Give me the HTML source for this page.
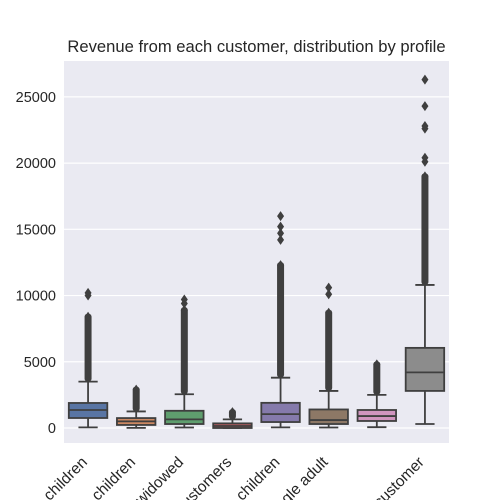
<!DOCTYPE html>
<html><head><meta charset="utf-8"><style>
html,body{margin:0;background:#fff;overflow:hidden;width:500px;height:500px;}
svg{font-family:"Liberation Sans","DejaVu Sans",sans-serif;display:block;overflow:hidden;}
</style></head><body>
<svg id="chart" width="500" height="500"></svg>
<script>
const categories=["Couple with children","Single parent with children","Senior widowed","Business customers","Family with children","Single adult","","Unknown customer"];
const q1=[755,230,300,0,450,300,530,2800];
const median=[1360,500,650,150,1050,600,900,4200];
const q3=[1890,750,1300,350,1900,1400,1360,6050];
const whiskLow=[50,10,40,0,50,40,60,300];
const whiskHigh=[3500,1250,2550,650,3800,2800,2500,10800];
const denseTop=[8400,2900,8900,1200,12300,8700,4800,19000];
const outliers=[[10000,10200],[],[9400,9700],[],[14200,14700,15200,16000],[10100,10600],[],[20100,20400,22600,22800,24300,26300]];
const yTicks=[0,5000,10000,15000,20000,25000];
const colors=["#5975a4","#cc8963","#5f9e6e","#b55d60","#857aab","#8d7866","#d095bf","#8c8c8c"];
const NS="http://www.w3.org/2000/svg";
const svg=document.getElementById('chart');
const L=64,R=449,T=61,B=443;
const y=v=>428-v*0.013245;
const bw=(R-L)/categories.length;
const x=i=>L+(i+0.5)*bw;
function el(t,a){const e=document.createElementNS(NS,t);for(const k in a)e.setAttribute(k,a[k]);svg.appendChild(e);return e;}
let bg=el('rect',{x:L,y:T,width:R-L,height:B-T,fill:'#eaeaf2'});


yTicks.forEach(v=>{
 let g=el('line',{x1:L,x2:R,y1:y(v),y2:y(v),stroke:'#fff','stroke-width':1.2});
 
 
 let t=el('text',{x:L-8,y:y(v)+5,'text-anchor':'end','font-size':14.5,fill:'#262626'});
 t.textContent=v;
 
 
});
const LC='#3f3f3f';
function diamond(cx,cy){let d=el('path',{d:`M${cx},${cy-5}L${cx+3.5},${cy}L${cx},${cy+5}L${cx-3.5},${cy}Z`,fill:LC});
 
 }
categories.forEach((c,i)=>{
 const cx=x(i),hw=bw*0.4;
 if(denseTop[i]>whiskHigh[i]){
  let r=el('rect',{x:cx-3.5,y:y(denseTop[i])-3,width:7,height:y(whiskHigh[i])-y(denseTop[i])+3,fill:LC,rx:3});
  
  
  diamond(cx,y(denseTop[i]));
 }
 outliers[i].forEach(v=>diamond(cx,y(v)));
 let w=el('line',{x1:cx,x2:cx,y1:y(whiskHigh[i]),y2:y(q3[i]),stroke:LC,'stroke-width':1.8});
 
 
 let w2=el('line',{x1:cx,x2:cx,y1:y(whiskLow[i]),y2:y(q1[i]),stroke:LC,'stroke-width':1.8});
 
 
 [whiskHigh[i],whiskLow[i]].forEach(v=>{
  let cap=el('line',{x1:cx-hw/2,x2:cx+hw/2,y1:y(v),y2:y(v),stroke:LC,'stroke-width':1.8});
  
  
 });
 let b=el('rect',{x:cx-hw,y:y(q3[i]),width:hw*2,height:Math.max(1,y(q1[i])-y(q3[i])),fill:colors[i],stroke:LC,'stroke-width':1.8});
 
 
 let m=el('line',{x1:cx-hw,x2:cx+hw,y1:y(median[i]),y2:y(median[i]),stroke:LC,'stroke-width':1.8});
 
 
 let t=el('text',{x:cx,y:B+20,'text-anchor':'end','font-size':15.5,fill:'#262626',transform:`rotate(-45 ${cx} ${B+20})`});
 t.textContent=c;
 
 
});
let ti=el('text',{x:(L+R)/2,y:52,'text-anchor':'middle','font-size':16.6,fill:'#262626'});
ti.textContent='Revenue from each customer, distribution by profile';


</script>
</body></html>
